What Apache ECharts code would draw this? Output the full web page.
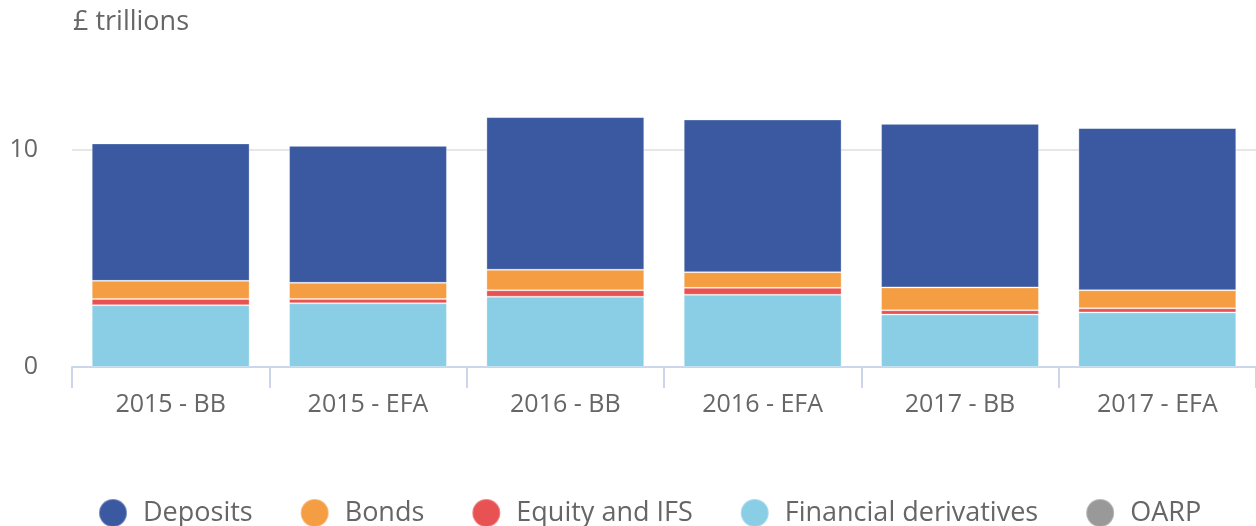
<!DOCTYPE html>
<html>
<head>
<meta charset="utf-8">
<script src="https://cdn.jsdelivr.net/npm/echarts@6/dist/echarts.min.js"></script>
<style>
  html, body { margin: 0; padding: 0; background: #fff; }
  #chart { width: 1256px; height: 526px; }
</style>
</head>
<body>
<div id="chart"></div>
<script>
// £ trillions
var categories = ['2015 - BB', '2015 - EFA', '2016 - BB', '2016 - EFA', '2017 - BB', '2017 - EFA']
var derivatives = [2.84, 2.93, 3.23, 3.32, 2.41, 2.51]
var equity = [0.29, 0.20, 0.30, 0.32, 0.20, 0.19]
var bonds = [0.83, 0.74, 0.94, 0.72, 1.05, 0.83]
var deposits = [6.32, 6.30, 7.02, 7.02, 7.52, 7.46]
var oarp = [0, 0, 0, 0, 0, 0]
var yTicks = [0, 10]

var font = '"Open Sans", "DejaVu Sans", sans-serif'
var border = { borderColor: 'rgba(255,255,255,0.3)', borderWidth: 1 }

function bar (name, data, color) {
    return {
        name: name,
        type: 'bar',
        stack: 'total',
        barCategoryGap: '20%',
        data: data,
        itemStyle: Object.assign({ color: color }, border),
        emphasis: { disabled: true }
    }
}

var option = {
    animation: false,
    textStyle: { fontFamily: font },
    title: {
        text: '£ trillions',
        left: 68,
        top: 4,
        textStyle: { fontFamily: font, fontSize: 27, fontWeight: 'normal', color: '#666' }
    },
    grid: { left: 72, right: 0, top: 62.5, bottom: 159 },
    legend: {
        data: ['Deposits', 'Bonds', 'Equity and IFS', 'Financial derivatives', 'OARP'],
        left: 93,
        top: 493,
        icon: 'circle',
        itemWidth: 28,
        itemHeight: 28,
        itemGap: 47,
        textStyle: { fontFamily: font, fontSize: 27, color: '#666', padding: [0, 0, 0, 11] }
    },
    xAxis: {
        type: 'category',
        data: categories,
        axisLine: { lineStyle: { color: '#ccd6eb', width: 2 } },
        axisTick: { show: true, length: 21, lineStyle: { color: '#ccd6eb', width: 2 } },
        axisLabel: { fontSize: 25, color: '#666', margin: 25, fontFamily: font }
    },
    yAxis: {
        type: 'value',
        min: 0,
        max: 14,
        interval: 10,
        axisLine: { show: false },
        axisTick: { show: false },
        axisLabel: {
            fontSize: 25, color: '#666', margin: 34, fontFamily: font, showMaxLabel: false,
            formatter: function (v) { return yTicks.indexOf(v) >= 0 ? String(v) : '' }
        },
        splitLine: { showMaxLine: false, lineStyle: { color: '#e6e6e6', width: 2 } }
    },
    series: [
        bar('Financial derivatives', derivatives, '#89cee5'),
        bar('Equity and IFS', equity, '#e85252'),
        bar('Bonds', bonds, '#f49d42'),
        bar('Deposits', deposits, '#3b59a0'),
        bar('OARP', oarp, '#999999')
    ]
}

var myChart = echarts.init(document.getElementById('chart'))
myChart.setOption(option)
</script>
</body>
</html>
